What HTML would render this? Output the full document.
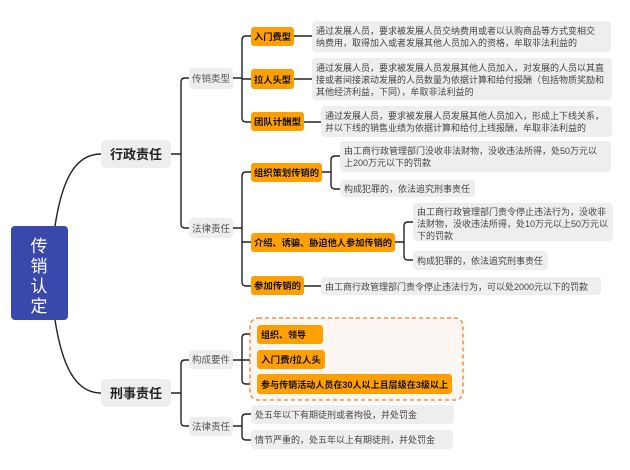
<!DOCTYPE html>
<html><head><meta charset="utf-8"><style>
html,body{margin:0;padding:0;background:#fff;width:630px;height:470px;overflow:hidden}
text{font-family:"Liberation Sans","Noto Sans CJK SC",sans-serif}
.d{font-size:9px;fill:#444}
.o{font-size:9px;font-weight:bold;fill:#111}
.g{font-size:9.5px;fill:#555}
</style></head><body>
<svg width="630" height="470" viewBox="0 0 630 470" xmlns="http://www.w3.org/2000/svg">
<g fill="none" stroke="#222" stroke-width="1.4">
<path d="M55 226 C62 180 75 154 101 154"/>
<path d="M55 320 C62 365 75 393 101 393"/>
<path d="M171 154 H181 M189 78 H185 Q181 78 181 82 V224 Q181 228 185 228 H189"/>
<path d="M233 78 H242 M251 36 H246 Q242 36 242 40 V118 Q242 122 246 122 H251 M242 79 H251"/>
<path d="M294 36 H312 M294 79 H312 M304 122 H321"/>
<path d="M233 228 H242 M251 172 H246 Q242 172 242 176 V282 Q242 286 246 286 H251 M242 242 H251"/>
<path d="M322 172 H331 M340 156 H335 Q331 156 331 160 V185 Q331 189 335 189 H340"/>
<path d="M395 242 H404 M413 222 H408 Q404 222 404 226 V256 Q404 260 408 260 H413"/>
<path d="M304 286 H321"/>
<path d="M171 393 H181 M189 360 H185 Q181 360 181 364 V422 Q181 426 185 426 H189"/>
<path d="M233 360 H242 M257 334 H246 Q242 334 242 338 V380 Q242 384 246 384 H257 M242 360 H257"/>
<path d="M233 426 H242 M251 414 H246 Q242 414 242 418 V436 Q242 440 246 440 H251"/>
</g>
<rect x="11" y="226" width="57" height="94" rx="4" fill="#3949ab"/>
<g fill="#fff" font-size="17" text-anchor="middle"><text x="39" y="252">传</text><text x="39" y="272">销</text><text x="39" y="292">认</text><text x="39" y="312">定</text></g>
<rect x="101" y="140" width="70" height="28" rx="5" fill="#eee"/>
<text x="136" y="159" font-size="13" font-weight="bold" text-anchor="middle" fill="#222">行政责任</text>
<rect x="101" y="379" width="70" height="28" rx="5" fill="#eee"/>
<text x="136" y="398" font-size="13" font-weight="bold" text-anchor="middle" fill="#222">刑事责任</text>
<g fill="#eee">
<rect x="189" y="68" width="44" height="21" rx="4"/><rect x="189" y="218" width="44" height="20" rx="4"/>
<rect x="189" y="350" width="44" height="19" rx="4"/><rect x="189" y="417" width="44" height="19" rx="4"/>
<rect x="312" y="21" width="299" height="31" rx="4"/><rect x="312" y="58" width="300" height="42" rx="4"/>
<rect x="321" y="106" width="291" height="31" rx="4"/>
<rect x="340" y="141" width="271" height="31" rx="4"/><rect x="340" y="180" width="135" height="17" rx="4"/>
<rect x="413" y="203" width="200" height="38" rx="4"/><rect x="413" y="251" width="135" height="19" rx="4"/>
<rect x="321" y="277" width="280" height="18" rx="4"/>
<rect x="251" y="405" width="203" height="19" rx="4"/><rect x="251" y="430" width="202" height="19" rx="4"/>
</g>
<g class="g" text-anchor="middle">
<text x="211" y="82">传销类型</text><text x="211" y="232">法律责任</text>
<text x="211" y="363">构成要件</text><text x="211" y="430">法律责任</text>
</g>
<rect x="250" y="318" width="213" height="82" rx="8" fill="#fcf6f2" stroke="#f57c20" stroke-width="1.3" stroke-dasharray="4,3"/>
<g fill="#ffa000">
<rect x="251" y="27" width="43" height="19" rx="3"/><rect x="251" y="69" width="43" height="20" rx="3"/>
<rect x="251" y="112" width="53" height="19" rx="3"/>
<rect x="251" y="163" width="71" height="19" rx="3"/><rect x="251" y="233" width="144" height="19" rx="3"/>
<rect x="251" y="276" width="53" height="19" rx="3"/>
<rect x="257" y="325" width="66" height="19" rx="3"/><rect x="257" y="350" width="68" height="19" rx="3"/>
<rect x="257" y="374" width="195" height="20" rx="3"/>
</g>
<g class="o">
<text x="254" y="40" textLength="37" lengthAdjust="spacingAndGlyphs">入门费型</text>
<text x="254" y="83" textLength="37" lengthAdjust="spacingAndGlyphs">拉人头型</text>
<text x="254" y="125" textLength="47" lengthAdjust="spacingAndGlyphs">团队计酬型</text>
<text x="254" y="176" textLength="65" lengthAdjust="spacingAndGlyphs">组织策划传销的</text>
<text x="254" y="246" textLength="138" lengthAdjust="spacingAndGlyphs">介绍、诱骗、胁迫他人参加传销的</text>
<text x="254" y="289" textLength="47" lengthAdjust="spacingAndGlyphs">参加传销的</text>
<text x="261" y="338" textLength="45" lengthAdjust="spacingAndGlyphs">组织、领导</text>
<text x="261" y="363" textLength="60" lengthAdjust="spacingAndGlyphs">入门费/拉人头</text>
<text x="261" y="388" textLength="187" lengthAdjust="spacingAndGlyphs">参与传销活动人员在30人以上且层级在3级以上</text>
</g>
<g class="d">
<text x="316" y="34">通过发展人员，要求被发展人员交纳费用或者以认购商品等方式变相交</text>
<text x="316" y="46">纳费用，取得加入或者发展其他人员加入的资格，牟取非法利益的</text>
<text x="316" y="71">通过发展人员，要求被发展人员发展其他人员加入，对发展的人员以其直</text>
<text x="316" y="83">接或者间接滚动发展的人员数量为依据计算和给付报酬（包括物质奖励和</text>
<text x="316" y="95">其他经济利益，下同），牟取非法利益的</text>
<text x="325" y="119">通过发展人员，要求被发展人员发展其他人员加入，形成上下线关系，</text>
<text x="325" y="131">并以下线的销售业绩为依据计算和给付上线报酬，牟取非法利益的</text>
<text x="344" y="154">由工商行政管理部门没收非法财物，没收违法所得，处50万元以</text>
<text x="344" y="166">上200万元以下的罚款</text>
<text x="344" y="192">构成犯罪的，依法追究刑事责任</text>
<text x="417" y="215">由工商行政管理部门责令停止违法行为，没收非</text>
<text x="417" y="227">法财物，没收违法所得，处10万元以上50万元以</text>
<text x="417" y="239">下的罚款</text>
<text x="417" y="264">构成犯罪的，依法追究刑事责任</text>
<text x="325" y="290">由工商行政管理部门责令停止违法行为，可以处2000元以下的罚款</text>
<text x="255" y="418">处五年以下有期徒刑或者拘役，并处罚金</text>
<text x="255" y="443">情节严重的，处五年以上有期徒刑，并处罚金</text>
</g>
</svg>
</body></html>
